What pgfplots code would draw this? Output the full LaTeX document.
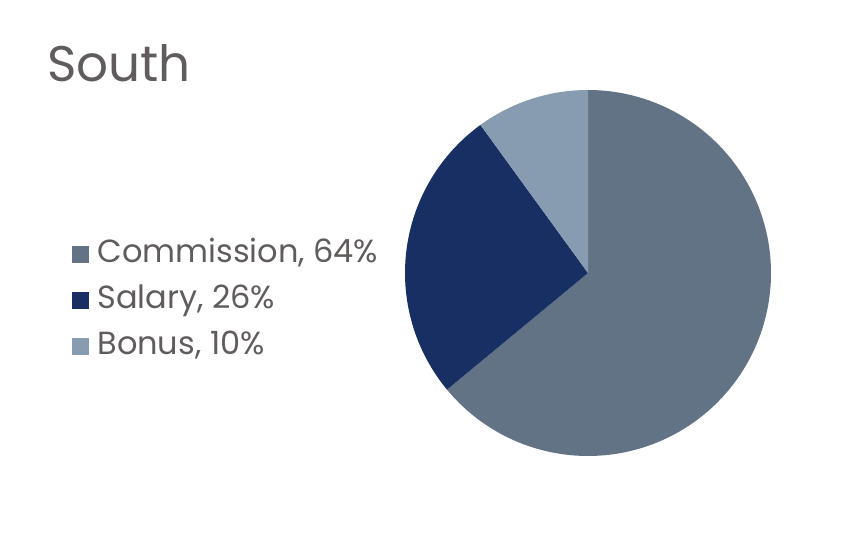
\documentclass[border=0pt]{standalone}
\usepackage{pgfplots}
\usepackage{pgfplotstable}
\pgfplotsset{compat=1.18}
\usepackage{fontspec}
\setmainfont{Poppins}
\definecolor{comm}{HTML}{637386}
\definecolor{sal}{HTML}{172F63}
\definecolor{bon}{HTML}{879CB0}
\definecolor{txt}{HTML}{605C5C}
\pgfplotstableread{
label value
Commission 64
Salary 26
Bonus 10
}\piedata
\pgfplotstablegetelem{0}{value}\of\piedata \let\vA\pgfplotsretval
\pgfplotstablegetelem{1}{value}\of\piedata \let\vB\pgfplotsretval
\pgfplotstablegetelem{2}{value}\of\piedata \let\vC\pgfplotsretval
\pgfmathsetmacro{\aA}{90}
\pgfmathsetmacro{\aB}{90-3.6*\vA}
\pgfmathsetmacro{\aC}{\aB-3.6*\vB}
\pgfmathsetmacro{\aD}{\aC-3.6*\vC}
\begin{document}
\begin{tikzpicture}
\begin{axis}[
  scale only axis, width=422pt, height=275pt,
  xmin=0, xmax=844, ymin=0, ymax=550,
  hide axis, clip=false,
  legend cell align=left,
  legend style={at={(axis cs:72,250)}, anchor=west, draw=none, fill=none,
    font=\fontsize{16pt}{18pt}\selectfont\color{txt}, inner sep=0pt,
    row sep=8.5pt, column sep=4pt,
    nodes={inner sep=0pt, text height=11.5pt, text depth=3pt}},
  legend image code/.code={\path[#1,draw=none] (0pt,-4.5pt) rectangle (8.5pt,4pt);},
]
\path (axis cs:0,0) (axis cs:844,550);
\addplot[fill=comm, draw=none, domain=\aA:\aB, samples=150, variable=\t]
  ({588+183*cos(t)},{277+183*sin(t)}) -- (axis cs:588,277) -- cycle;
\addlegendentry{Commission, \vA\%}
\addplot[fill=sal, draw=none, domain=\aB:\aC, samples=80, variable=\t]
  ({588+183*cos(t)},{277+183*sin(t)}) -- (axis cs:588,277) -- cycle;
\addlegendentry{Salary, \vB\%}
\addplot[fill=bon, draw=none, domain=\aC:\aD, samples=40, variable=\t]
  ({588+183*cos(t)},{277+183*sin(t)}) -- (axis cs:588,277) -- cycle;
\addlegendentry{Bonus, \vC\%}
\node[anchor=base west, inner sep=0pt, text=txt, font=\fontsize{25pt}{30pt}\selectfont] at (axis cs:47,468) {South};
\end{axis}
\end{tikzpicture}
\end{document}
